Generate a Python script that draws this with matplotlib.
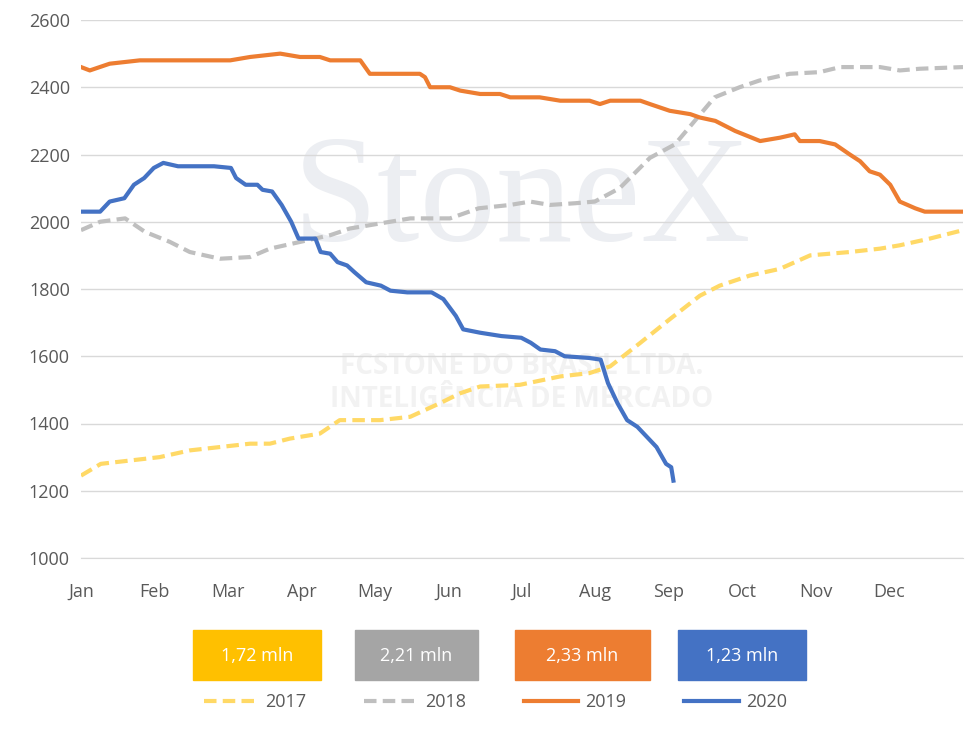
import matplotlib
matplotlib.use("Agg")
import matplotlib.pyplot as plt
from matplotlib.lines import Line2D
from matplotlib.patches import Rectangle

plt.rcParams['font.family'] = ['Open Sans', 'DejaVu Sans']

months = ['Jan', 'Feb', 'Mar', 'Apr', 'May', 'Jun', 'Jul', 'Aug', 'Sep', 'Oct', 'Nov', 'Dec']

# x in months since Jan 1
x2017 = [0, 0.27, 0.67, 1.07, 1.48, 1.89, 2.3, 2.57, 2.84, 3.25, 3.52, 4.07, 4.48, 4.88, 5.16, 5.43,
         5.97, 6.52, 6.92, 7.2, 7.61, 8.01, 8.42, 8.69, 9.1, 9.51, 9.92, 10.46, 10.87, 11.14, 11.55, 12.0]
y2017 = [1245, 1280, 1290, 1300, 1320, 1330, 1340, 1340, 1355, 1370, 1410, 1410, 1420, 1460, 1490, 1510,
         1515, 1540, 1550, 1570, 1640, 1710, 1780, 1810, 1840, 1860, 1900, 1910, 1920, 1930, 1950, 1975]

x2018 = [0, 0.26, 0.6, 0.87, 1.21, 1.48, 1.89, 2.3, 2.57, 2.98, 3.39, 3.66, 4.07, 4.48, 5.02, 5.41, 5.84,
         6.11, 6.38, 6.72, 6.99, 7.33, 7.74, 8.08, 8.35, 8.62, 8.96, 9.23, 9.64, 10.05, 10.33, 10.87,
         11.14, 11.41, 12.0]
y2018 = [1975, 2000, 2010, 1970, 1940, 1910, 1890, 1895, 1920, 1940, 1960, 1980, 1995, 2010, 2010, 2040,
         2050, 2060, 2050, 2055, 2060, 2100, 2190, 2230, 2300, 2370, 2400, 2420, 2440, 2445, 2460, 2460,
         2450, 2455, 2460]

x2019 = [0, 0.12, 0.39, 0.8, 1.62, 2.03, 2.3, 2.71, 2.98, 3.25, 3.39, 3.8, 3.93, 4.61, 4.68, 4.75, 5.02,
         5.16, 5.43, 5.7, 5.84, 6.24, 6.52, 6.92, 7.06, 7.2, 7.61, 7.74, 8.01, 8.29, 8.42, 8.63, 8.9, 9.24,
         9.51, 9.71, 9.78, 10.05, 10.26, 10.46, 10.6, 10.73, 10.87, 11.01, 11.14, 11.35, 11.48, 12.0]
y2019 = [2460, 2450, 2470, 2480, 2480, 2480, 2490, 2500, 2490, 2490, 2480, 2480, 2440, 2440, 2430, 2400,
         2400, 2390, 2380, 2380, 2370, 2370, 2360, 2360, 2350, 2360, 2360, 2350, 2330, 2320, 2310, 2300,
         2270, 2240, 2250, 2260, 2240, 2240, 2230, 2200, 2180, 2150, 2140, 2110, 2060, 2040, 2030, 2030]

x2020 = [0, .26, .39, .59, .72, .86, .99, 1.12, 1.32, 1.81, 2.04, 2.11, 2.24, 2.4, 2.47, 2.6, 2.73, 2.86,
         2.96, 3.19, 3.26, 3.39, 3.49, 3.62, 3.72, 3.88, 4.08, 4.21, 4.44, 4.77, 4.93, 5.1, 5.2, 5.43, 5.72,
         5.99, 6.12, 6.25, 6.45, 6.58, 6.91, 7.07, 7.17, 7.3, 7.43, 7.57, 7.7, 7.83, 7.96, 8.03, 8.06]
y2020 = [2030, 2030, 2060, 2070, 2110, 2130, 2160, 2175, 2165, 2165, 2160, 2130, 2110, 2110, 2095, 2090,
         2050, 2000, 1950, 1950, 1910, 1905, 1880, 1870, 1850, 1820, 1810, 1795, 1790, 1790, 1770, 1720,
         1680, 1670, 1660, 1655, 1640, 1620, 1615, 1600, 1595, 1590, 1520, 1460, 1410, 1390, 1360, 1330,
         1280, 1270, 1230]

box_labels = ['1,72 mln', '2,21 mln', '2,33 mln', '1,23 mln']
box_colors = ['#FFC000', '#A5A5A5', '#ED7D31', '#4472C4']

fig = plt.figure(figsize=(9.75, 7.39), dpi=100)
ax = fig.add_axes([81/975, 1 - 558/739, 882/975, 538/739])

# faint watermark
ax.text(6.0, 2050, 'StoneX', fontsize=110, color='#ECEEF2', ha='center', va='center',
        family='Liberation Serif', zorder=0)
ax.text(6.0, 1520, 'FCSTONE DO BRASIL LTDA.\nINTELIGÊNCIA DE MERCADO', fontsize=20, color='#F2F2F2',
        ha='center', va='center', zorder=0, fontweight='bold', linespacing=1.2)

ax.plot(x2017, y2017, color='#FFD966', lw=3, ls=(0, (3, 1.5)), zorder=3)
ax.plot(x2018, y2018, color='#BFBFBF', lw=3, ls=(0, (3, 1.5)), zorder=3)
ax.plot(x2019, y2019, color='#ED7D31', lw=3, zorder=4)
ax.plot(x2020, y2020, color='#4472C4', lw=3, zorder=5)

ax.set_xlim(0, 12)
ax.set_ylim(1000, 2600)
ax.set_yticks(range(1000, 2601, 200))
ax.set_xticks(range(12))
ax.set_xticklabels(months)
ax.grid(axis='y', color='#D9D9D9', lw=1)
ax.set_axisbelow(True)
for s in ['top', 'right', 'left']:
    ax.spines[s].set_visible(False)
ax.spines['bottom'].set_color('#D9D9D9')
ax.tick_params(length=0, labelsize=13, colors='#595959')
ax.tick_params(axis='x', pad=18)
ax.tick_params(axis='y', pad=8)

# value boxes
box_x = [193, 355, 515, 678]
box_w = [128, 123, 135, 128]
for bx, bw, lab, c in zip(box_x, box_w, box_labels, box_colors):
    fig.patches.append(Rectangle((bx/975, 1 - 680/739), bw/975, 50/739, transform=fig.transFigure,
                                 color=c))
    fig.text((bx + bw/2)/975, 1 - 656/739, lab, color='white', fontsize=13, ha='center', va='center')

handles = [Line2D([], [], color='#FFD966', lw=3, ls=(0, (3, 1.5))),
           Line2D([], [], color='#BFBFBF', lw=3, ls=(0, (3, 1.5))),
           Line2D([], [], color='#ED7D31', lw=3),
           Line2D([], [], color='#4472C4', lw=3)]
fig.legend(handles, ['2017', '2018', '2019', '2020'], loc='center', bbox_to_anchor=(0.508, 1 - 702/739),
           ncol=4, frameon=False, fontsize=13, handlelength=3, handletextpad=0.4, columnspacing=3.2,
           labelcolor='#595959')

fig.savefig('out.png', dpi=100)
